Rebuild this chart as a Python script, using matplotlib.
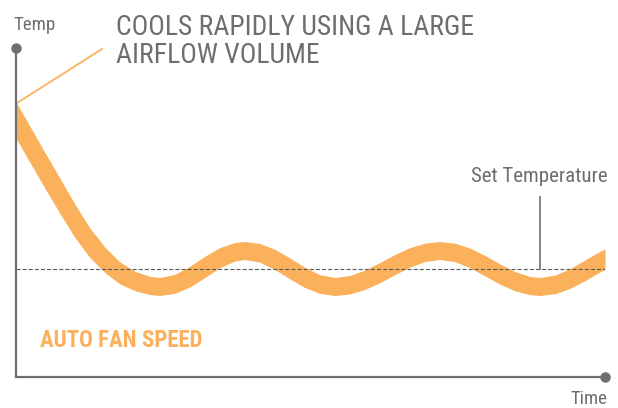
import numpy as np
import matplotlib
matplotlib.use("Agg")
import matplotlib.pyplot as plt
from matplotlib import font_manager as fm

plt.rcParams['lines.scale_dashes'] = False

# ---- data (time units ~ arbitrary, temperature relative to set point) ----
time = [0, 14, 29, 44, 59, 74, 89, 104, 119, 134, 144, 159, 174, 189, 204, 219,
        229, 244, 259, 274, 289, 304, 319, 334, 349, 364, 379, 394, 409, 424,
        439, 454, 469, 484, 499, 514, 524, 539, 554, 569, 579, 589]
temp = [148.5, 124, 98, 72.5, 47.5, 25.5, 8.5, -4.5, -12.5, -17, -18, -15.3,
        -8, 1.7, 10.9, 16.8, 18, 15.6, 9, 0, -9, -15.6, -18, -16.2, -11.2, -4,
        4, 11.2, 16.2, 18, 16, 10.6, 2.8, -5.6, -12.7, -17.1, -18, -15.9, -10,
        -1.8, 4.1, 9.5]
set_point = 0
set_marker_time = 524
set_marker_top = 71.5
x_range = (0, 589)
y_range = (-108.5, 220.5)

title_lines = ["COOLS RAPIDLY USING A LARGE", "AIRFLOW VOLUME"]
mode_label = "AUTO FAN SPEED"
set_label = "Set Temperature"
x_label = "Time"
y_label = "Temp"

ORANGE = "#FBB15C"
GRAY = "#6D6E71"
DGRAY = "#58595B"

# ---- pick a condensed font if one is installed ----
names = {f.name for f in fm.fontManager.ttflist}
FONT = ['Roboto', 'DejaVu Sans']
STRETCH = 'normal'
for cand in ['Roboto Condensed', 'Liberation Sans Narrow', 'Noto Sans Condensed',
             'Open Sans Condensed', 'DejaVu Sans Condensed', 'Arial Narrow']:
    if cand in names:
        FONT = [cand, 'DejaVu Sans']
        break
else:
    for fam in ['Roboto', 'Noto Sans', 'Open Sans', 'DejaVu Sans']:
        if any(f.name == fam and str(f.stretch) in ('condensed', 'semi-condensed', '87.5', '75', 75, 87.5)
               for f in fm.fontManager.ttflist):
            FONT = [fam, 'DejaVu Sans']
            STRETCH = 'condensed'
            break

W, H = 618, 408
fig = plt.figure(figsize=(W / 100, H / 100), dpi=100)
ax = fig.add_axes([16 / W, 31 / H, 589 / W, 329 / H])
ax.set_xlim(*x_range)
ax.set_ylim(*y_range)

t = np.array(time, float)
T = np.array(temp, float)
slope = np.gradient(T, t)
half = 9.0 * np.sqrt(1 + slope ** 2)
ax.fill_between(t, T - half, T + half, color=ORANGE, lw=0, zorder=2)

ax.axhline(set_point, color=DGRAY, lw=0.8, dashes=(2.9, 1.5), zorder=3)
ax.plot([set_marker_time, set_marker_time], [set_point, set_marker_top],
        color=GRAY, lw=1.2, zorder=3)

for s in ['top', 'right']:
    ax.spines[s].set_visible(False)
for s in ['left', 'bottom']:
    ax.spines[s].set_color(GRAY)
    ax.spines[s].set_linewidth(1.6)
    ax.spines[s].set_zorder(4)
ax.set_xticks([])
ax.set_yticks([])
ax.patch.set_alpha(0)

ax.plot([x_range[0]], [y_range[1]], 'o', color=GRAY, ms=6.5, clip_on=False, zorder=5)
ax.plot([x_range[1]], [y_range[0]], 'o', color=GRAY, ms=6.5, clip_on=False, zorder=5)

# leader line from curve start to the title
ax.plot([1, 86], [165.5, 219.5], color=ORANGE, lw=1.3, clip_on=False, zorder=3)

renderer = fig.canvas.get_renderer()

def ftext(x, y, s, size, target_w, max_size=None, **kw):
    txt = fig.text(x / W, 1 - y / H, s, family=FONT, fontstretch=STRETCH,
                   fontsize=size, **kw)
    w = txt.get_window_extent(renderer).width
    new = size * target_w / w
    if max_size is not None:
        new = min(new, max_size)
    txt.set_fontsize(new)
    return txt

ftext(13, 30, y_label, 14.4, 42, max_size=16, color=GRAY, va='baseline', ha='left')
t1 = ftext(116, 35, title_lines[0], 19.4, 356, max_size=21, color=GRAY, va='baseline', ha='left')
fig.text(116 / W, 1 - 63 / H, title_lines[1], family=FONT, fontstretch=STRETCH,
         fontsize=t1.get_fontsize(), color=GRAY, va='baseline', ha='left')
ftext(40, 347, mode_label, 18.5, 163, max_size=20, color=ORANGE, weight='bold', va='baseline', ha='left')
ftext(539, 182, set_label, 15.5, 137, max_size=17, color=GRAY, va='baseline', ha='center')
ftext(607, 407.5, x_label, 14.6, 37, max_size=16.5, color=GRAY, va='bottom', ha='right')

fig.savefig("out.png", dpi=100)
